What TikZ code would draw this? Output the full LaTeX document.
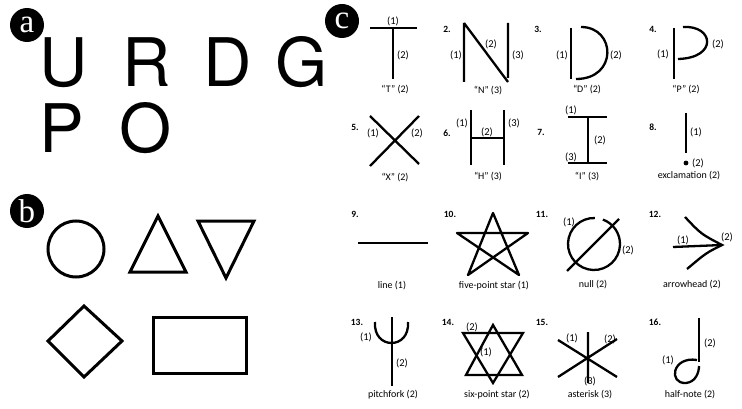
\documentclass[tikz,border=0pt]{standalone}
\usepackage{fontspec}
\setmainfont{Liberation Serif}
\newfontfamily\glyphfont{TeX Gyre Heros}
\newfontfamily\capfont[Ligatures=TeX]{Carlito}
\usetikzlibrary{positioning}
\tikzset{
  panel/.style={circle,fill=black,text=white,inner sep=0pt,minimum size=34pt,font=\fontsize{33}{33}\selectfont},
  glyph/.style={anchor=base,inner sep=0pt,font=\glyphfont\fontsize{67}{67}\selectfont},
  outl/.style={line width=3pt,line join=miter},
  pen/.style={line width=2.3pt},
  num/.style={font=\capfont\bfseries\fontsize{9.5}{9.5}\selectfont,inner sep=0pt},
  plab/.style={font=\capfont\fontsize{10.5}{10.5}\selectfont,inner sep=0pt},
  capt/.style={font=\capfont\fontsize{10}{10}\selectfont,inner sep=0pt}
}
\begin{document}
\begin{tikzpicture}[x=1pt,y=-1pt]
  \useasboundingbox (0,0) rectangle (742,409);
  % a: letters
  \node[panel] (pa) at (27,25) {a};
  \foreach \l/\x/\y in {U/64/87,R/147/87,D/228/87,G/302/87,P/62/153,O/146/153}
    \node[glyph] (let\l) at (\x,\y) {\l};
  % b: shapes
  \node[panel] (pb) at (27,211) {b};
  \draw[outl] (76,249) circle (28);
  \draw[outl] (158,216) -- (186,272) -- (130,272) -- cycle;
  \draw[outl] (198,221) -- (254,221) -- (226,278) -- cycle;
  \draw[outl] (84,306) -- (122,341) -- (84,377) -- (48,341) -- cycle;
  \draw[outl] (153,317) rectangle (246,373);
  % c: strokes
  \foreach \n/\x/\y in {1/352/29,2/447/29,3/538/29,4/653/29,5/355/127,6/447/133,7/541/132,8/653/127,
                        9/355/214,10/450/214,11/542/214,12/655/214,13/357/322,14/448/322,15/542/322,16/655/322}
    \node[num] (num\n) at (\x,\y) {\n.};
  \node[panel] (pc) at (342,21) {c};
  % 1 T
  \draw[pen] (370,28) -- (417,28) (393,28) -- (393,79);
  \node[plab] (t1) at (393,21) {(1)};
  \node[plab] (t2) at (403,55) {(2)};
  \node[capt] (tc) at (395,90) {“T” (2)};
  % 2 N
  \draw[pen] (464,23) -- (464,82) (464,23) -- (508,82) (508,23) -- (508,78);
  \node[plab] (n1) at (456,55) {(1)};
  \node[plab] (n2) at (491,44) {(2)};
  \node[plab] (n3) at (518,55) {(3)};
  \node[capt] (nc) at (488,91) {“N” (3)};
  % 3 D
  \draw[pen] (571,28) -- (571,79);
  \draw[pen] (581,27) .. controls (616,27) and (618,79) .. (576,79);
  \node[plab] (d1) at (562,55) {(1)};
  \node[plab] (d2) at (616,55) {(2)};
  \node[capt] (dc) at (587,90) {“D” (2)};
  % 4 P
  \draw[pen] (674,28) -- (674,79);
  \draw[pen] (683,27) .. controls (714,25) and (718,58) .. (678,59);
  \node[plab] (p1) at (663,54) {(1)};
  \node[plab] (p2) at (718,44) {(2)};
  \node[capt] (pcap) at (686,90) {“P” (2)};
  % 5 X
  \draw[pen] (370,116) -- (419,164) (419,116) -- (370,166);
  \node[plab] (x1) at (373,133) {(1)};
  \node[plab] (x2) at (417,133) {(2)};
  \node[capt] (xc) at (395,178) {“X” (2)};
  % 6 H
  \draw[pen] (471,110) -- (471,165) (504,110) -- (504,165) (471,138) -- (504,138);
  \node[plab] (h1) at (462,123) {(1)};
  \node[plab] (h2) at (487,132) {(2)};
  \node[plab] (h3) at (514,123) {(3)};
  \node[capt] (hc) at (488,177) {“H” (3)};
  % 7 I
  \draw[pen] (568,117) -- (607,117) (568,163) -- (607,163) (588,117) -- (588,163);
  \node[plab] (i1) at (571,110) {(1)};
  \node[plab] (i2) at (600,140) {(2)};
  \node[plab] (i3) at (571,157) {(3)};
  \node[capt] (ic) at (587,177) {“I” (3)};
  % 8 exclamation
  \draw[pen] (686,113) -- (686,153);
  \fill (686,163) circle (2.4);
  \node[plab] (e1) at (696,132) {(1)};
  \node[plab] (e2) at (698,163) {(2)};
  \node[capt] (ec) at (689,176) {exclamation (2)};
  % 9 line
  \draw[pen] (358,243) -- (428,243);
  \node[capt] (lc) at (392,286) {line (1)};
  % 10 five-point star
  \draw[pen,line join=round] (493,213) -- (519,275) -- (457,233) -- (528,233) -- (468,275) -- cycle;
  \node[capt] (fc) at (494,286) {five-point star (1)};
  % 11 null
  \draw[pen] (594,244) ++(88:26pt) arc[start angle=88,end angle=430,radius=26pt];
  \draw[pen] (567,271) -- (619,219);
  \node[plab] (o1) at (569,222) {(1)};
  \node[plab] (o2) at (628,250) {(2)};
  \node[capt] (oc) at (593,285) {null (2)};
  % 12 arrowhead
  \draw[pen] (685,217) .. controls (701,234) .. (722,245) .. controls (706,253) .. (687,269);
  \draw[pen] (673,247) -- (722,245);
  \node[plab] (a1) at (683,240) {(1)};
  \node[plab] (a2) at (727,237) {(2)};
  \node[capt] (ac) at (692,285) {arrowhead (2)};
  % 13 pitchfork
  \draw[pen] (392,317) -- (392,386);
  \draw[pen] (375,322) .. controls (373,350) and (410,350) .. (408,322);
  \node[plab] (f1) at (366,337) {(1)};
  \node[plab] (f2) at (402,363) {(2)};
  \node[capt] (fkc) at (393,395) {pitchfork (2)};
  % 14 six-point star
  \draw[pen] (493,325) -- (522,375) -- (466,375) -- cycle;
  \draw[pen] (463,333) -- (523,333) -- (493,383) -- cycle;
  \node[plab] (s2) at (472,327) {(2)};
  \node[plab] (s1) at (486,352) {(1)};
  \node[capt] (sc) at (497,395) {six-point star (2)};
  % 15 asterisk
  \draw[pen] (588,332) -- (588,383) (558,340) -- (617,377) (558,377) -- (617,339);
  \node[plab] (k1) at (572,338) {(1)};
  \node[plab] (k2) at (610,339) {(2)};
  \node[plab] (k3) at (590,381) {(3)};
  \node[capt] (kc) at (590,395) {asterisk (3)};
  % 16 half-note
  \draw[pen] (699,318) -- (699,362);
  \draw[pen] (697,360) .. controls (672,356) and (668,384) .. (686,383) .. controls (696,382) and (699,372) .. (699,366);
  \node[plab] (m1) at (668,360) {(1)};
  \node[plab] (m2) at (710,343) {(2)};
  \node[capt] (mc) at (690,395) {half-note (2)};
\end{tikzpicture}
\end{document}
